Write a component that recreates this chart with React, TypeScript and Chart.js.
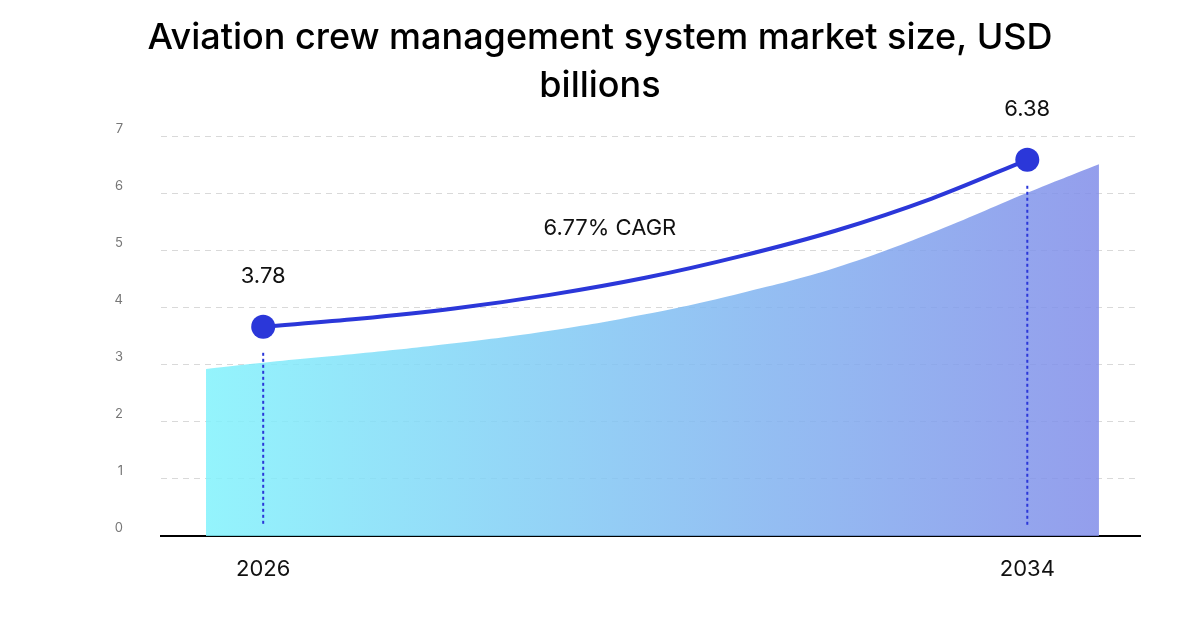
import { useEffect, useRef } from "react";
import { Chart, registerables } from "chart.js";

Chart.register(...registerables);

// ---- data ----
const titleLines = ["Aviation crew management system market size, USD", "billions"];
const trendYears = [2026, 2027, 2028, 2029, 2030, 2031, 2032, 2033, 2034];
const trendValues = [3.67, 3.81, 3.99, 4.23, 4.53, 4.91, 5.36, 5.92, 6.6];
const areaYears = [2025.4, 2026, 2027, 2028, 2029, 2030, 2031, 2032, 2033, 2034, 2034.75];
const areaValues = [2.93, 3.04, 3.2, 3.38, 3.6, 3.89, 4.26, 4.71, 5.32, 6.02, 6.52];
const endLabels = ["3.78", "6.38"];
const cagrLabel = "6.77% CAGR";
const xTickYears = [2026, 2034];
const yTickValues = [0, 1, 2, 3, 4, 5, 6, 7];

// ---- layout / style constants ----
const FONT = "Inter, 'Noto Sans', sans-serif";
const LINE_COLOR = "#2b37d9";
const CAGR_POS = { x: 2029.63, y: 5.4 };

const annotationPlugin = {
  id: "annotations",
  afterDatasetsDraw(chart: any) {
    const { ctx, scales, chartArea } = chart;
    const xs = scales.x;
    const ys = scales.y;
    ctx.save();
    const ends = [0, trendYears.length - 1];
    ends.forEach((idx, k) => {
      const px = xs.getPixelForValue(trendYears[idx]);
      const py = ys.getPixelForValue(trendValues[idx]);
      ctx.beginPath();
      ctx.setLineDash([3, 3]);
      ctx.lineWidth = 2;
      ctx.strokeStyle = LINE_COLOR;
      ctx.moveTo(px, py + 26);
      ctx.lineTo(px, chartArea.bottom - 10);
      ctx.stroke();
      ctx.setLineDash([]);
      ctx.fillStyle = "#111";
      ctx.font = `400 22px ${FONT}`;
      ctx.textAlign = "center";
      ctx.textBaseline = "middle";
      ctx.fillText(endLabels[k], px, py - 50);
    });
    ctx.fillStyle = "#111";
    ctx.font = `400 22px ${FONT}`;
    ctx.textAlign = "center";
    ctx.textBaseline = "middle";
    ctx.fillText(cagrLabel, xs.getPixelForValue(CAGR_POS.x), ys.getPixelForValue(CAGR_POS.y));
    ctx.restore();
  },
};

export default function App() {
  const ref = useRef<HTMLCanvasElement>(null);

  useEffect(() => {
    if (!ref.current) return;
    const chart = new Chart(ref.current, {
      type: "line",
      data: {
        datasets: [
          {
            label: "trend",
            data: trendYears.map((x, i) => ({ x, y: trendValues[i] })),
            borderColor: LINE_COLOR,
            borderWidth: 4,
            backgroundColor: LINE_COLOR,
            pointBackgroundColor: LINE_COLOR,
            pointBorderWidth: 0,
            pointRadius: (c: any) =>
              c.dataIndex === 0 || c.dataIndex === trendYears.length - 1 ? 12 : 0,
            cubicInterpolationMode: "monotone",
            fill: false,
            order: 0,
          },
          {
            label: "area",
            data: areaYears.map((x, i) => ({ x, y: areaValues[i] })),
            borderWidth: 0,
            borderColor: "transparent",
            pointRadius: 0,
            tension: 0.4,
            fill: "origin",
            order: 1,
            backgroundColor: (c: any) => {
              const ch = c.chart;
              const area = ch.chartArea;
              if (!area || !ch.scales.x) return "rgba(129,242,252,0.85)";
              const x0 = ch.scales.x.getPixelForValue(areaYears[0]);
              const x1 = ch.scales.x.getPixelForValue(areaYears[areaYears.length - 1]);
              const g = ch.ctx.createLinearGradient(x0, 0, x1, 0);
              g.addColorStop(0, "rgba(129,242,252,0.85)");
              g.addColorStop(1, "rgba(129,141,233,0.85)");
              return g;
            },
          },
        ],
      },
      options: {
        animation: false,
        responsive: false,
        devicePixelRatio: 1,
        layout: { padding: { left: 60, right: 60, top: 0, bottom: 0 } },
        plugins: {
          legend: { display: false },
          tooltip: { enabled: false },
          title: {
            display: true,
            text: titleLines,
            color: "#000",
            font: { family: FONT, size: 36, weight: "500", lineHeight: 1.333 },
            padding: { top: 14, bottom: 27 },
          },
        },
        scales: {
          x: {
            type: "linear",
            min: 2024.93,
            max: 2035.18,
            afterBuildTicks: (s: any) => {
              s.ticks = xTickYears.map((v) => ({ value: v }));
            },
            afterFit: (s: any) => {
              s.height = 94;
            },
            grid: { display: false, drawTicks: false },
            border: { display: true, color: "#000", width: 2 },
            ticks: {
              color: "#111",
              font: { family: FONT, size: 22 },
              padding: 20,
              maxRotation: 0,
              autoSkip: false,
              callback: (v: any) => String(v),
            },
          },
          y: {
            type: "linear",
            min: 0,
            max: 7,
            afterBuildTicks: (s: any) => {
              s.ticks = yTickValues.map((v) => ({ value: v }));
            },
            afterFit: (s: any) => {
              s.width = 101;
            },
            grid: {
              drawTicks: false,
              lineWidth: 1,
              color: (c: any) => (c.tick && c.tick.value === 0 ? "transparent" : "#d9d9d9"),
            },
            border: { display: false, dash: [6, 5] },
            ticks: {
              color: "#777",
              font: { family: FONT, size: 13 },
              padding: 38,
              labelOffset: -8,
              callback: (v: any) => String(v),
            },
          },
        },
      },
      plugins: [annotationPlugin],
    } as any);
    return () => chart.destroy();
  }, []);

  return (
    <div style={{ position: "fixed", left: 0, top: 0, width: 1200, height: 630, background: "#fff" }}>
      <canvas ref={ref} width={1200} height={630} style={{ display: "block", width: 1200, height: 630 }} />
    </div>
  );
}
